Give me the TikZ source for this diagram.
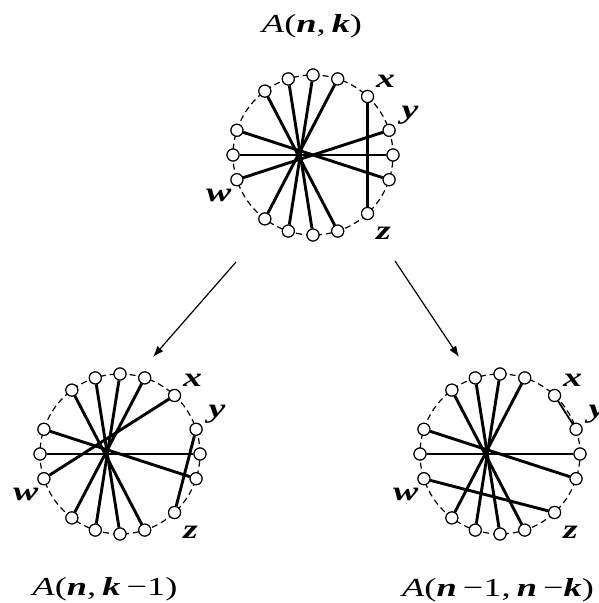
\documentclass[tikz,border=0pt]{standalone}
\usepackage{fontspec}
\setmainfont{Liberation Serif}
\usepackage{graphicx}
\usetikzlibrary{arrows.meta, positioning, calc}

\newcommand{\vb}[1]{\textbf{\textit{#1}}}
\newcommand{\wide}[1]{\scalebox{1.4}[1]{#1}}

\begin{document}
\begin{tikzpicture}[x=1pt, y=1pt,
    ring/.style={circle, draw=black, dash pattern=on 6pt off 4pt, line width=1.2pt, minimum size=160pt, inner sep=0pt},
    vertex/.style={circle, draw=black, fill=white, line width=1.1pt, minimum size=12pt, inner sep=0pt},
    chord/.style={line width=2.9pt},
    lab/.style={font=\fontsize{27}{30}\selectfont, inner sep=0pt},
    title/.style={font=\fontsize{26}{30}\selectfont, inner sep=0pt},
    arrow/.style={-{Latex[length=11pt, width=8pt]}, line width=1.2pt}
]
    \useasboundingbox (0,0) rectangle (598,603);

    % Three rings, sixteen vertices each (t = top, l = lower left, r = lower right)
    \foreach \g/\cx/\cy in {t/313/448, l/120/149, r/500/149} {
        \node[ring] (\g ring) at (\cx,\cy) {};
        \foreach \a [count=\i] in {90,72,47,18,0,-18,-47,-72,-90,-108,-127,-162,180,162,127,108}
            \node[vertex] (\g\i) at ([shift={(\a:80)}]\g ring.center) {};
    }

    % Chords shared by all three
    \foreach \g in {t,l,r}
        \foreach \u/\v in {15/8, 16/9, 1/10, 2/11, 14/6, 13/5}
            \draw[chord] (\g\u) -- (\g\v);

    % Top: x--z and w--y
    \draw[chord] (t3) -- (t7);
    \draw[chord] (t12) -- (t4);
    % Lower left: x--w and y--z
    \draw[chord] (l3) -- (l12);
    \draw[chord] (l4) -- (l7);
    % Lower right: x--y and w--z
    \draw[chord, line width=1.8pt] (r3) -- (r4);
    \draw[chord] (r12) -- (r7);

    % Redraw vertices over the chords
    \foreach \g in {t,l,r}
        \foreach \i in {1,...,16}
            \node[vertex] at (\g\i) {};

    % Vertex labels
    \foreach \g in {t,l,r} {
        \node[lab] (\g x) at ([shift={(18,15)}]\g3) {\wide{\vb{x}}};
        \node[lab] (\g y) at ([shift={(21,15)}]\g4) {\wide{\vb{y}}};
        \node[lab] (\g z) at ([shift={(16,-20)}]\g7) {\wide{\vb{z}}};
        \node[lab] (\g w) at ([shift={(-18,-16)}]\g12) {\wide{\vb{w}}};
    }

    % Titles
    \node[title] (ttitle) at (312,577) {\wide{\textit{A}(\vb{n},\,\vb{k})}};
    \node[title] (ltitle) at (105,14) {\wide{\textit{A}(\vb{n},\,\vb{k}\,−1)}};
    \node[title] (rtitle) at (498,13) {\wide{\textit{A}(\vb{n}\,−1,\,\vb{n}\,−\vb{k})}};

    % Arrows down to the two cases
    \coordinate (lstart) at (236,341);
    \coordinate (lend) at (153,246);
    \coordinate (rstart) at (395,342);
    \coordinate (rend) at (459,246);
    \draw[arrow] (lstart) -- (lend);
    \draw[arrow] (rstart) -- (rend);
\end{tikzpicture}
\end{document}
